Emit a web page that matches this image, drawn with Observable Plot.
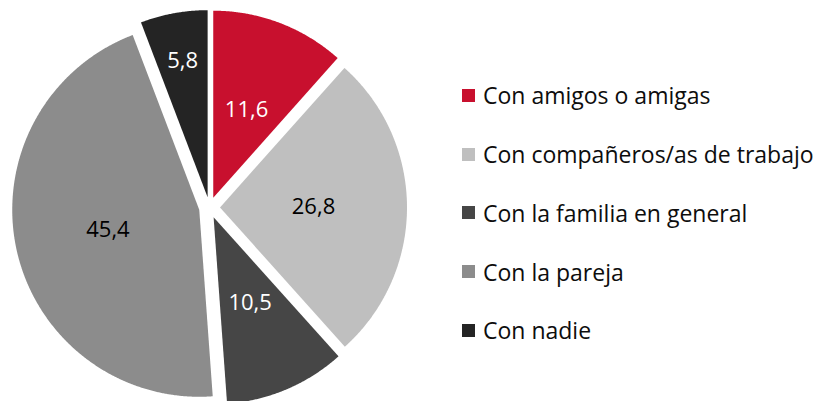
<!DOCTYPE html>
<html><head><meta charset="utf-8">
<script src="https://cdn.jsdelivr.net/npm/d3@7"></script>
<script src="https://cdn.jsdelivr.net/npm/@observablehq/plot@0.6"></script>
<style>
html,body{margin:0;padding:0;background:#fff;}
#wrap{position:relative;width:819px;height:401px;overflow:hidden;}
#legend{position:absolute;left:462px;top:66px;font-family:"Open Sans",Lato,sans-serif;font-size:23px;color:#0d0d0d;}
.row{display:flex;align-items:center;height:58.75px;white-space:nowrap;}
.sw{width:13px;height:13px;margin-right:8px;flex:none;}
</style></head><body><div id="wrap"><div id="legend"></div></div>
<script>
const categories = ["Con amigos o amigas","Con compañeros/as de trabajo","Con la familia en general","Con la pareja","Con nadie"];
const values = [11.6, 26.8, 10.5, 45.4, 5.8];
const valueLabels = ["11,6","26,8","10,5","45,4","5,8"];
const colors = ["#C8102E","#BFBFBF","#464646","#8C8C8C","#242424"];
const darkSlices = ["Con amigos o amigas","Con la familia en general","Con nadie"];

const W = 819, H = 401, CX = 209, CY = 207, R = 187;
const EXPLODE = 10.5 / R;

const arcs = d3.pie().sort(null).value(d => d)(values);
const poly = [];
const lab = [];
arcs.forEach((a, i) => {
  const mid = (a.startAngle + a.endAngle) / 2;
  const ox = EXPLODE * Math.sin(mid), oy = -EXPLODE * Math.cos(mid);
  const cat = categories[i];
  poly.push({cat, x: ox, y: oy});
  const n = Math.max(2, Math.ceil((a.endAngle - a.startAngle) / 0.005));
  for (let k = 0; k <= n; k++) {
    const t = a.startAngle + (a.endAngle - a.startAngle) * k / n;
    poly.push({cat, x: ox + Math.sin(t), y: oy - Math.cos(t)});
  }
  poly.push({cat, x: ox, y: oy});
  const lr = values[i] < 8 ? 0.74 : 0.5;
  lab.push({cat, text: valueLabels[i], x: ox + lr * Math.sin(mid), y: oy - lr * Math.cos(mid)});
});

const chart = Plot.plot({
  width: W, height: H,
  margin: 0,
  x: {domain: [-CX / R, (W - CX) / R], range: [0, W], axis: null},
  y: {domain: [-CY / R, (H - CY) / R], range: [0, H], axis: null},
  color: {domain: categories, range: colors},
  style: {background: "#fff"},
  marks: [
    Plot.line(poly, {x: "x", y: "y", z: "cat", fill: "cat", stroke: "none", curve: "linear"}),
    Plot.text(lab.filter(d => darkSlices.includes(d.cat)), {x: "x", y: "y", text: "text", fill: "white", fontSize: 22, fontFamily: "Open Sans, sans-serif"}),
    Plot.text(lab.filter(d => !darkSlices.includes(d.cat)), {x: "x", y: "y", text: "text", fill: "black", fontSize: 22, fontFamily: "Open Sans, sans-serif"})
  ]
});
const wrap = document.getElementById("wrap");
wrap.insertBefore(chart, wrap.firstChild);

const legend = document.getElementById("legend");
categories.forEach((c, i) => {
  const row = document.createElement("div");
  row.className = "row";
  const sw = document.createElement("span");
  sw.className = "sw";
  sw.style.background = colors[i];
  const tx = document.createElement("span");
  tx.textContent = c;
  row.appendChild(sw); row.appendChild(tx);
  legend.appendChild(row);
});
</script></body></html>
